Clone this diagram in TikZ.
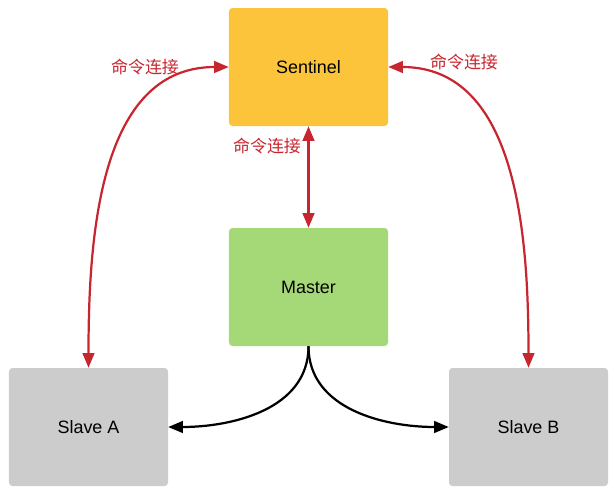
\documentclass[tikz,border=0pt]{standalone}
\usepackage{fontspec}
\setmainfont{Liberation Sans}
\newfontfamily\cjk{Noto Sans CJK SC}
\usetikzlibrary{arrows.meta}
\definecolor{sentcol}{HTML}{FCC43A}
\definecolor{mastcol}{HTML}{A5D877}
\definecolor{slavecol}{HTML}{CCCCCC}
\definecolor{linkred}{HTML}{C8262F}
\tikzset{
	box/.style={rounded corners=3pt, minimum width=4.77cm, minimum height=3.54cm, inner sep=0pt, font=\fontsize{15.3}{18}\selectfont},
	cmdlink/.style={line width=1.9pt, draw=linkred, {Triangle[length=12.5pt,width=10pt]}-{Triangle[length=12.5pt,width=10pt]}},
	repl/.style={line width=1.9pt, -{Triangle[length=12.5pt,width=10pt]}},
	cmdtext/.style={text=linkred, font=\cjk\fontsize{14.5}{17}\selectfont}
}
\begin{document}
\begin{tikzpicture}[x=0.03cm, y=-0.03cm]
	\useasboundingbox (0, 0) rectangle (614, 496);
	\node[box, fill=sentcol]	(sentinel)	at (308.5, 67)	{Sentinel};
	\node[box, fill=mastcol]	(master)	at (308.5, 287)	{Master};
	\node[box, fill=slavecol]	(slavea)	at (88.5, 427)	{Slave A};
	\node[box, fill=slavecol]	(slaveb)	at (528.5, 427)	{Slave B};
	% command links from sentinel
	\draw[cmdlink]	(sentinel.west) to[out=180, in=90] (slavea.north);
	\draw[cmdlink]	(sentinel.east) to[out=0, in=90] (slaveb.north);
	\draw[cmdlink]	(sentinel.south) -- (master.north);
	\node[cmdtext]	(cmda)	at (145, 67)	{命令连接};
	\node[cmdtext]	(cmdb)	at (464, 62)	{命令连接};
	\node[cmdtext]	(cmdm)	at (267, 146)	{命令连接};
	% replication
	\draw[repl]	(master.south) to[out=-90, in=0] (slavea.east);
	\draw[repl]	(master.south) to[out=-90, in=180] (slaveb.west);
\end{tikzpicture}
\end{document}
